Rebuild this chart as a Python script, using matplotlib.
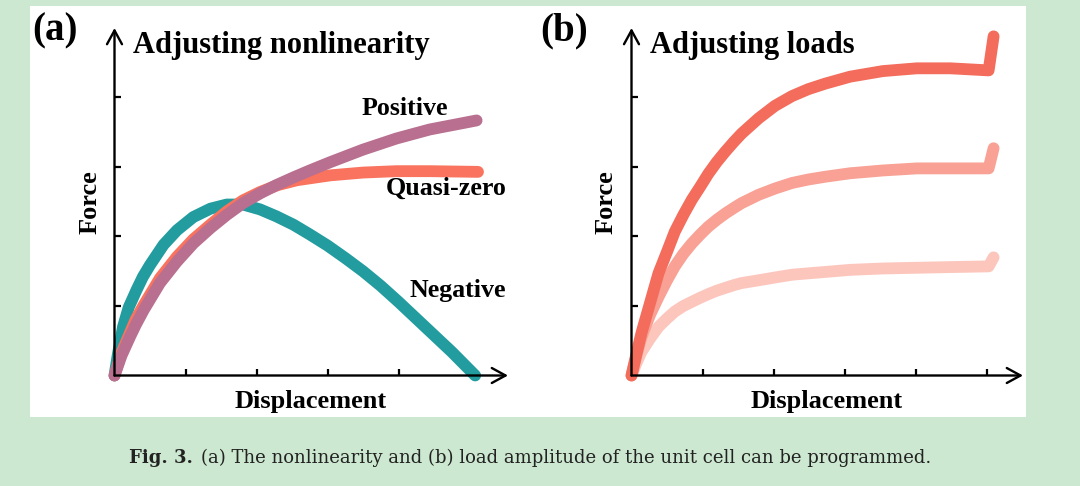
import matplotlib
matplotlib.use("Agg")
import matplotlib.pyplot as plt
from matplotlib.patches import Rectangle

# ---- panel (a): adjusting nonlinearity (units = axis tick steps) ----
neg_x = [0, 0.05, 0.12, 0.2, 0.31, 0.4, 0.5, 0.69, 0.88, 1.11, 1.35, 1.58, 1.81, 2.05,
         2.28, 2.52, 2.75, 3.0, 3.25, 3.5, 3.75, 4.0, 4.25, 4.5, 4.75, 5.08]
neg_y = [0, 0.32, 0.7, 0.98, 1.23, 1.42, 1.59, 1.88, 2.09, 2.28, 2.40, 2.46, 2.46, 2.39,
         2.29, 2.17, 2.03, 1.87, 1.69, 1.50, 1.29, 1.06, 0.82, 0.58, 0.34, 0]

qz_x = [0, 0.1, 0.22, 0.3, 0.41, 0.64, 0.88, 1.11, 1.35, 1.58, 1.81, 2.05, 2.3, 2.57,
        3.04, 3.5, 3.97, 4.44, 5.12]
qz_y = [0, 0.33, 0.62, 0.81, 1.01, 1.40, 1.71, 1.96, 2.17, 2.36, 2.52, 2.64, 2.74, 2.81,
        2.88, 2.92, 2.94, 2.94, 2.93]

pos_x = [0, 0.1, 0.22, 0.3, 0.41, 0.64, 0.88, 1.11, 1.35, 1.58, 1.81, 2.05, 2.28, 2.52,
         2.75, 3.04, 3.5, 3.97, 4.44, 5.1]
pos_y = [0, 0.29, 0.56, 0.73, 0.94, 1.33, 1.64, 1.90, 2.12, 2.31, 2.48, 2.62, 2.74, 2.85,
         2.95, 3.07, 3.25, 3.41, 3.54, 3.67]

# ---- panel (b): adjusting loads ----
load_x = [0, 0.07, 0.14, 0.26, 0.38, 0.5, 0.61, 0.73, 0.85, 0.97, 1.08, 1.2, 1.32, 1.44,
          1.55, 1.79, 2.02, 2.26, 2.49, 2.73, 3.08, 3.54, 4.02, 4.49, 5.03, 5.1]
high_y = [0, 0.31, 0.61, 1.04, 1.47, 1.78, 2.07, 2.31, 2.53, 2.72, 2.90, 3.07, 3.22, 3.36,
          3.48, 3.70, 3.88, 4.02, 4.12, 4.20, 4.30, 4.38, 4.42, 4.42, 4.39, 4.88]
mid_y = [0, 0.29, 0.55, 0.87, 1.13, 1.37, 1.57, 1.75, 1.90, 2.03, 2.14, 2.24, 2.33, 2.41,
         2.48, 2.60, 2.69, 2.77, 2.82, 2.86, 2.91, 2.95, 2.98, 2.98, 2.98, 3.27]
low_y = [0, 0.18, 0.34, 0.53, 0.70, 0.82, 0.92, 1.00, 1.06, 1.12, 1.17, 1.22, 1.26, 1.30,
         1.33, 1.37, 1.41, 1.45, 1.47, 1.49, 1.52, 1.54, 1.55, 1.56, 1.57, 1.70]

x_ticks = [1, 2, 3, 4, 5]
y_ticks = [1, 2, 3, 4]

W, H = 1080, 486
BG = "#cce8d0"
SERIF = ["Liberation Serif", "DejaVu Serif"]
LW = 8.5


def fx(x):
    return x / W


def fy(y):
    return 1 - y / H


fig = plt.figure(figsize=(10.8, 4.86), dpi=100, facecolor=BG)
fig.add_artist(Rectangle((fx(30), fy(417)), (1026 - 30) / W, (417 - 6) / H,
                         transform=fig.transFigure, facecolor="white",
                         edgecolor="none", zorder=0))


def make_axes(x0, x_end):
    y0, y_top = 375.5, 28
    ax = fig.add_axes([fx(x0), fy(y0), (x_end - x0) / W, (y0 - y_top) / H])
    ax.set_xlim(0, (x_end - x0) / 71)
    ax.set_ylim(0, (y0 - y_top) / 69.5)
    ax.patch.set_visible(False)
    for s in ax.spines.values():
        s.set_visible(False)
    ax.set_xticks(x_ticks)
    ax.set_yticks(y_ticks)
    ax.set_xticklabels([])
    ax.set_yticklabels([])
    ax.tick_params(direction="in", length=4.5, width=1.6, color="black")
    arrow = dict(arrowstyle="->,head_length=0.55,head_width=0.3", lw=1.7,
                 color="black", shrinkA=0, shrinkB=0, mutation_scale=18)
    ax.annotate("", xy=(ax.get_xlim()[1], 0), xytext=(0, 0), arrowprops=arrow,
                annotation_clip=False)
    ax.annotate("", xy=(0, ax.get_ylim()[1]), xytext=(0, 0), arrowprops=arrow,
                annotation_clip=False)
    return ax


line = dict(lw=LW, solid_capstyle="round", solid_joinstyle="round", clip_on=False)

ax_a = make_axes(114.5, 508)
ax_a.plot(neg_x, neg_y, color="#229c9f", **line)
ax_a.plot(qz_x, qz_y, color="#f9735f", **line)
ax_a.plot(pos_x, pos_y, color="#b96f90", **line)

ax_b = make_axes(631.5, 1023)
ax_b.plot(load_x, low_y, color="#fcc6bd", **line)
ax_b.plot(load_x, mid_y, color="#f8a194", **line)
ax_b.plot(load_x, high_y, color="#f36c5c", **line)

bold = dict(family=SERIF, fontweight="bold", color="black")
fig.text(fx(32), fy(40), "(a)", fontsize=28, **bold)
fig.text(fx(540), fy(40), "(b)", fontsize=28, **bold)
fig.text(fx(133), fy(53), "Adjusting nonlinearity", fontsize=22, **bold)
fig.text(fx(649.5), fy(53), "Adjusting loads", fontsize=22, **bold)
for cx in (90, 606):
    fig.text(fx(cx), fy(202), "Force", fontsize=19, rotation=90, ha="center",
             va="center", **bold)
for cx in (311, 827):
    fig.text(fx(cx), fy(408), "Displacement", fontsize=19, ha="center", **bold)
fig.text(fx(362), fy(115), "Positive", fontsize=18.7, **bold)
fig.text(fx(386), fy(195), "Quasi-zero", fontsize=18.7, **bold)
fig.text(fx(410), fy(297), "Negative", fontsize=18.7, **bold)

# caption: bold figure number followed by regular text
cap = fig.text(fx(129), fy(463), "Fig. 3.", fontsize=13, family="DejaVu Serif",
               fontweight="bold", color="#222222")
fig.canvas.draw()
bb = cap.get_window_extent()
fig.text((bb.x1 + 8) / W, fy(463),
         "(a) The nonlinearity and (b) load amplitude of the unit cell can be programmed.",
         fontsize=13, family="DejaVu Serif", color="#222222")

fig.savefig("out.png", dpi=100, facecolor=BG)
